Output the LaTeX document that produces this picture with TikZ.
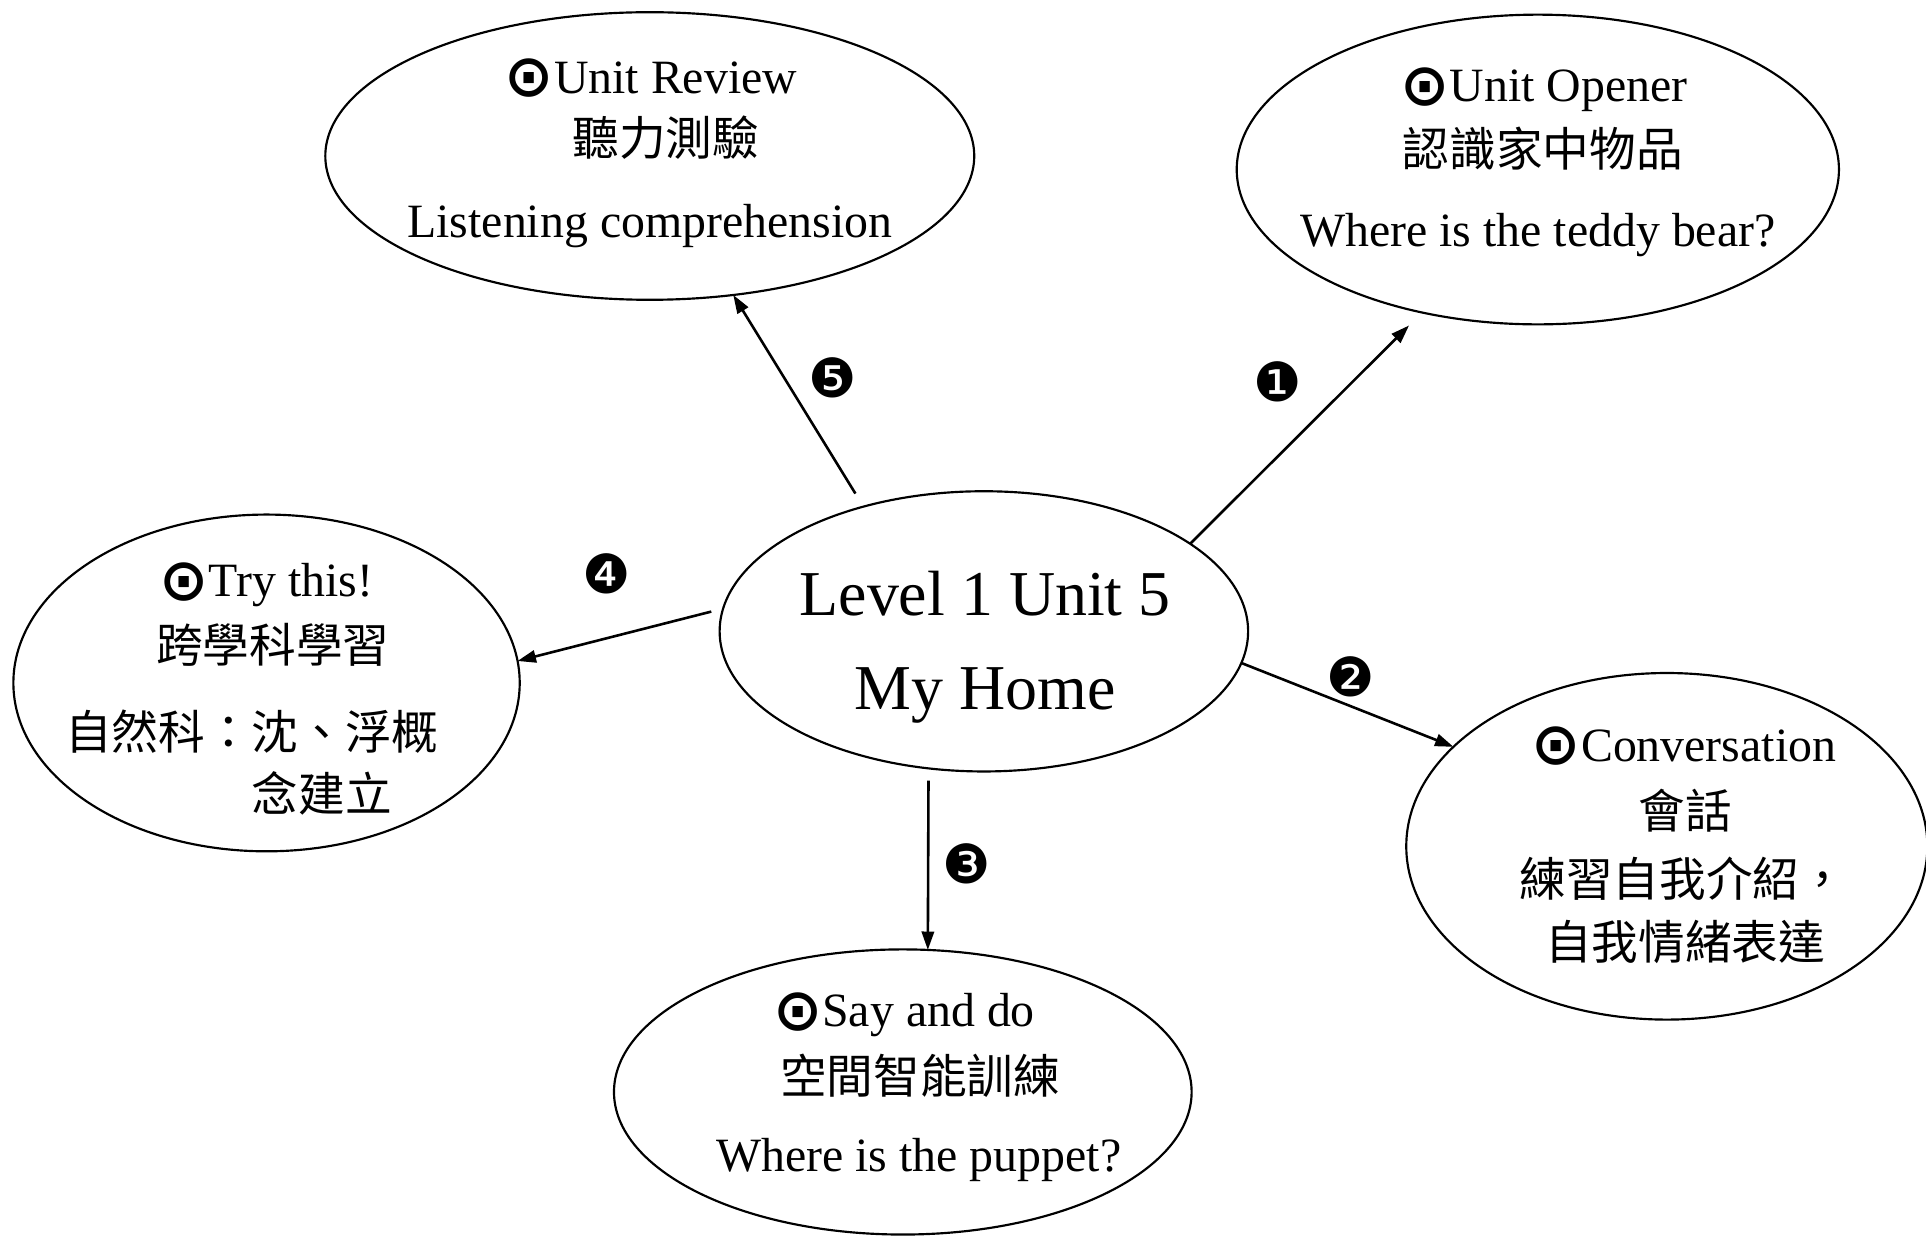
\documentclass[tikz,border=0pt]{standalone}
\usepackage{fontspec}
\setmainfont{Liberation Serif}
\newfontfamily\cjk{Noto Sans CJK TC}
\newfontfamily\dv{DejaVu Sans}
\usetikzlibrary{shapes.geometric,arrows.meta}
\newcommand{\bulls}{\raisebox{-0.07em}{\dv\bfseries\fontsize{13.6pt}{13pt}\selectfont ⊙}}
\begin{document}
\begin{tikzpicture}[x=0.01cm,y=-0.01cm]
\tikzset{
 bub/.style={draw, ellipse, line width=0.5pt, inner sep=0pt, outer sep=0pt},
 en/.style={anchor=base, font=\fontsize{11.07pt}{13pt}\selectfont, inner sep=0pt},
 zh/.style={anchor=center, font=\cjk\fontsize{10.8pt}{13pt}\selectfont, inner sep=0pt},
 big/.style={anchor=base, font=\fontsize{14.8pt}{17pt}\selectfont, inner sep=0pt},
 num/.style={font=\dv\fontsize{12.5pt}{14pt}\selectfont, inner sep=0pt},
 arr/.style={-{Triangle[length=0.15cm,width=0.1cm]}, line width=0.6pt},
}
\useasboundingbox (0,0) rectangle (1568,1006);
% ellipses
\node[bub, minimum width=5.28cm, minimum height=2.34cm] (rev) at (529,127) {};
\node[bub, minimum width=4.90cm, minimum height=2.52cm] (opn) at (1252,138) {};
\node[bub, minimum width=4.30cm, minimum height=2.28cm] (c) at (801,514) {};
\node[bub, minimum width=4.12cm, minimum height=2.74cm] (try) at (217,556) {};
\node[bub, minimum width=4.24cm, minimum height=2.82cm] (cnv) at (1357,689) {};
\node[bub, minimum width=4.70cm, minimum height=2.32cm] (say) at (735,889) {};
% texts
\node[en] (rev1) at (530,76) {\bulls Unit Review};
\node[zh] (rev2) at (542,112) {聽力測驗};
\node[en] (rev3) at (529,193) {Listening comprehension};
\node[en] (opn1) at (1257,83) {\bulls Unit Opener};
\node[zh] (opn2) at (1256,121) {認識家中物品};
\node[en] (opn3) at (1252,201) {Where is the teddy bear?};
\node[big] (c1) at (802,501) {Level 1 Unit 5};
\node[big] (c2) at (802,578) {My Home};
\node[en] (try1) at (217,486) {\bulls Try this!};
\node[zh] (try2) at (222,525) {跨學科學習};
\node[zh] (try3) at (205,596) {自然科：沈、浮概};
\node[zh] (try4) at (262,646) {念建立};
\node[en] (cnv1) at (1371,620) {\bulls Conversation};
\node[zh] (cnv2) at (1372,660) {會話};
\node[zh] (cnv3) at (1370,715) {練習自我介紹，};
\node[zh] (cnv4) at (1372,767) {自我情緒表達};
\node[en] (say1) at (736,836) {\bulls Say and do};
\node[zh] (say2) at (749,876) {空間智能訓練};
\node[en] (say3) at (748,954) {Where is the puppet?};
% connectors
\draw[arr, shorten <=0.125cm] (c.134.2) -- (rev.-59);
\draw[arr, shorten >=0.15cm] (c.23.8) -- (opn.-129.6);
\draw[arr] (c.-7.8) -- (cnv.155.7);
\draw[arr, shorten <=0.1cm] (c.-112.4) -- (say.80.2);
\draw[arr, shorten <=0.1cm] (c.175) -- (try.5);
% numbers
\node[num] (n5) at (678,308) {❺};
\node[num] (n1) at (1040,311) {❶};
\node[num] (n2) at (1100,551) {❷};
\node[num] (n3) at (787,703) {❸};
\node[num] (n4) at (494,467) {❹};
\end{tikzpicture}
\end{document}
